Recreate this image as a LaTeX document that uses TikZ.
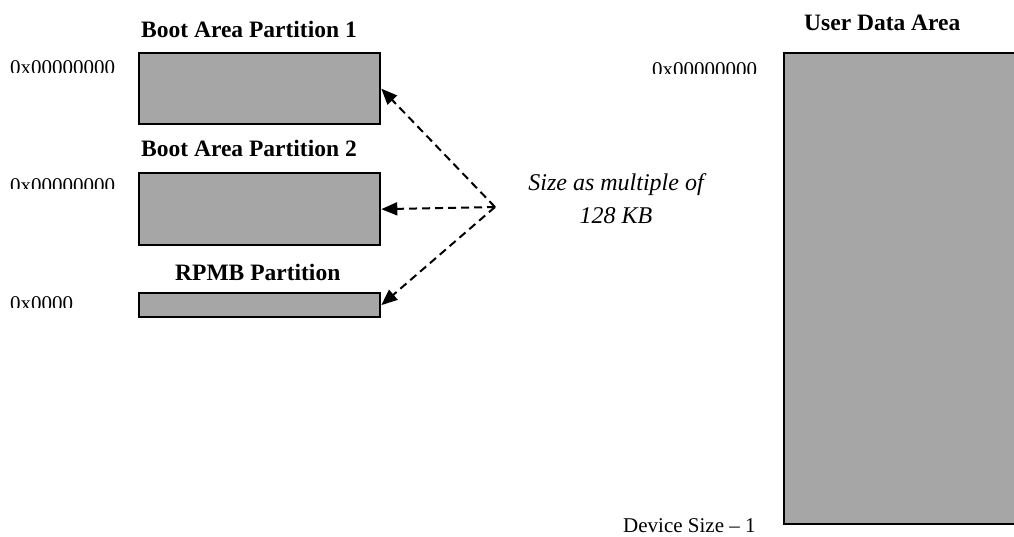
\documentclass[tikz,border=0pt]{standalone}
\usepackage{fontspec}
\setmainfont{Liberation Serif}
\usetikzlibrary{arrows.meta}
\definecolor{partfill}{HTML}{A6A6A6}
\tikzset{
  partbox/.style={draw=black, line width=2.3pt, fill=partfill, anchor=north west, inner sep=0pt},
  title/.style={font=\fontsize{23.5}{28}\selectfont\bfseries, inner sep=0pt, anchor=base west},
  addr/.style={font=\fontsize{21}{25}\selectfont, inner sep=0pt, anchor=base west},
  note/.style={font=\fontsize{24}{33}\selectfont\itshape, inner sep=0pt, align=center},
  sizearrow/.style={line width=2pt, dash pattern=on 8pt off 5pt, -{Triangle[length=16pt,width=13pt]}},
}
\begin{document}
\begin{tikzpicture}[x=1pt, y=-1pt]
  \useasboundingbox (0,0) rectangle (1014,536);
  \clip (0,0) rectangle (1014,536);

  % partitions of the boot area and RPMB
  \node[title] (t1) at (141,37) {Boot Area Partition 1};
  \node[partbox, minimum width=241pt, minimum height=71pt] (boot1) at (138,52) {};
  \node[title] (t2) at (141,156) {Boot Area Partition 2};
  \node[partbox, minimum width=241pt, minimum height=72pt] (boot2) at (138,172) {};
  \node[title] (t3) at (175,280) {RPMB Partition};
  \node[partbox, minimum width=241pt, minimum height=24pt] (rpmb) at (138,292) {};

  % start addresses (the labels are cut off at the bottom)
  \begin{scope}
    \clip (0,40) rectangle (130,72);
    \node[addr] (a1) at (10,74) {0x00000000};
  \end{scope}
  \begin{scope}
    \clip (0,160) rectangle (130,188);
    \node[addr] (a2) at (10,192) {0x00000000};
  \end{scope}
  \begin{scope}
    \clip (0,280) rectangle (130,307);
    \node[addr] (a3) at (10,310) {0x0000};
  \end{scope}

  % user data area
  \node[title] (t4) at (804,30) {User Data Area};
  \node[partbox, minimum width=300pt, minimum height=471pt] (user) at (783,52) {};
  \begin{scope}
    \clip (640,40) rectangle (770,73);
    \node[addr] (a4) at (652,76) {0x00000000};
  \end{scope}
  \node[addr] (a5) at (623,532) {Device Size \textendash\ 1};

  % size annotation
  \node[note] (size) at (616,199) {Size as multiple of\\128 KB};
  \coordinate (hub) at (495,207);
  \draw[sizearrow] (hub) -- (boot1.east);
  \draw[sizearrow] (hub) -- (boot2.east);
  \draw[sizearrow] (hub) -- (rpmb.east);
\end{tikzpicture}
\end{document}
